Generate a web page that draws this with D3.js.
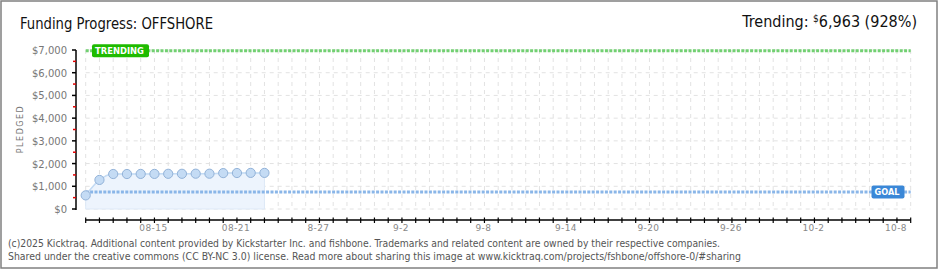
<!DOCTYPE html>
<html>
<head>
<meta charset="utf-8">
<script src="https://cdn.jsdelivr.net/npm/d3@7"></script>
<style>
  body { margin: 0; background: #fff; }
  svg { display: block; }
</style>
</head>
<body>
<div id="chart"></div>
<script>
const projectName = "OFFSHORE";
const dates = ["2025-08-10", "2025-08-11", "2025-08-12", "2025-08-13", "2025-08-14", "2025-08-15", "2025-08-16",
    "2025-08-17", "2025-08-18", "2025-08-19", "2025-08-20", "2025-08-21", "2025-08-22", "2025-08-23"];
const pledged = [600, 1280, 1540, 1540, 1545, 1545, 1550, 1550, 1555, 1555, 1580, 1585, 1590, 1590];
const goal = 750;
const trending = 6963;
const trendingPct = 928;
const yTicks = [0, 1000, 2000, 3000, 4000, 5000, 6000, 7000];
const yMinorTicks = [500, 1500, 2500, 3500, 4500, 5500, 6500];
const xLabels = [
    ["2025-08-15", "08-15"], ["2025-08-21", "08-21"], ["2025-08-27", "8-27"], ["2025-09-02", "9-2"],
    ["2025-09-08", "9-8"], ["2025-09-14", "9-14"], ["2025-09-20", "9-20"], ["2025-09-26", "9-26"],
    ["2025-10-02", "10-2"], ["2025-10-08", "10-8"]
];
const startDate = "2025-08-10";
const endDate = "2025-10-09";
const footer = [
    "(c)2025 Kicktraq. Additional content provided by Kickstarter Inc. and fishbone. Trademarks and related content are owned by their respective companies.",
    "Shared under the creative commons (CC BY-NC 3.0) license. Read more about sharing this image at www.kicktraq.com/projects/fshbone/offshore-0/#sharing"
];

const W = 940, H = 270;
const parse = d3.utcParse("%Y-%m-%d");
const data = dates.map((d, i) => ({ date: parse(d), value: pledged[i] }));

const x = d3.scaleUtc().domain([parse(startDate), parse(endDate)]).range([85.7, 910.7]);
const y = d3.scaleLinear().domain([0, 7000]).range([209, 50]);
const days = d3.utcDay.range(parse(startDate), d3.utcDay.offset(parse(endDate), 1));

const svg = d3.select("#chart").append("svg")
    .attr("width", W)
    .attr("height", H);

svg.append("rect")
    .attr("x", 1).attr("y", 1)
    .attr("width", W - 4).attr("height", H - 3)
    .attr("fill", "#fff")
    .attr("stroke", "#808080")
    .attr("stroke-width", 1.5);

// title
svg.append("text")
    .attr("x", 20).attr("y", 29)
    .style("font-family", "'DejaVu Sans Condensed', 'Liberation Sans Narrow', sans-serif")
    .style("font-size", "16px")
    .attr("fill", "#111")
    .attr("textLength", 193)
    .attr("lengthAdjust", "spacingAndGlyphs")
    .text("Funding Progress: " + projectName);

const trendText = svg.append("text")
    .attr("x", 917).attr("y", 27)
    .attr("text-anchor", "end")
    .style("font-family", "'DejaVu Sans Condensed', 'Liberation Sans Narrow', sans-serif")
    .style("font-size", "16px")
    .attr("fill", "#111");
trendText.append("tspan").text("Trending:  ");
trendText.append("tspan").style("font-size", "10px").attr("dy", -5).text("$");
trendText.append("tspan").attr("dy", 5).text(d3.format(",")(trending) + " (" + trendingPct + "%)");

// grid
const grid = svg.append("g").attr("stroke", "#e2e2e2").attr("stroke-dasharray", "4,4");
grid.selectAll("line.h")
    .data(yTicks)
    .enter()
    .append("line")
    .attr("x1", x(parse(startDate))).attr("x2", x(parse(endDate)))
    .attr("y1", d => y(d)).attr("y2", d => y(d));
grid.selectAll("line.v")
    .data(days)
    .enter()
    .append("line")
    .attr("x1", d => x(d)).attr("x2", d => x(d))
    .attr("y1", y(7000)).attr("y2", y(0));

// area + line + points
const area = d3.area()
    .x(d => x(d.date))
    .y0(y(0))
    .y1(d => y(d.value))
    .curve(d3.curveMonotoneX);
svg.append("path")
    .datum(data)
    .attr("fill", "#edf4fd")
    .attr("stroke", "#dde9f7")
    .attr("d", area);

svg.append("path")
    .datum(data)
    .attr("fill", "none")
    .attr("stroke", "#c4dbf4")
    .attr("stroke-width", 1.5)
    .attr("d", d3.line().x(d => x(d.date)).y(d => y(d.value)).curve(d3.curveMonotoneX));

// goal + trending lines
const lineX1 = x(parse(startDate)), lineX2 = x(parse(endDate));
svg.append("line")
    .attr("x1", lineX1).attr("x2", lineX2)
    .attr("y1", y(goal)).attr("y2", y(goal))
    .attr("stroke", "#8ab6e8")
    .attr("stroke-width", 3)
    .attr("stroke-dasharray", "3,1.4");
svg.append("line")
    .attr("x1", lineX1).attr("x2", lineX2)
    .attr("y1", y(trending)).attr("y2", y(trending))
    .attr("stroke", "#72d072")
    .attr("stroke-width", 3)
    .attr("stroke-dasharray", "3,1.4");

svg.selectAll("circle.pt")
    .data(data)
    .enter()
    .append("circle")
    .attr("cx", d => x(d.date))
    .attr("cy", d => y(d.value))
    .attr("r", 4.6)
    .attr("fill", "#c4dbf4")
    .attr("stroke", "#92b2d8")
    .attr("stroke-width", 1);

// labels on lines
function tag(xPos, yPos, w, color, label) {
    svg.append("rect")
        .attr("x", xPos).attr("y", yPos - 6.5)
        .attr("width", w).attr("height", 13)
        .attr("rx", 2)
        .attr("fill", color);
    svg.append("text")
        .attr("x", xPos + 3).attr("y", yPos + 3.5)
        .style("font-family", "'DejaVu Sans', sans-serif")
        .style("font-size", "9px")
        .style("font-weight", "bold")
        .attr("fill", "#fff")
        .attr("textLength", w - 8)
        .attr("lengthAdjust", "spacingAndGlyphs")
        .text(label);
}
tag(92, y(trending), 57, "#1fbb00", "TRENDING");
tag(871.5, y(goal), 33, "#3a87d7", "GOAL");

// y axis
svg.append("line")
    .attr("x1", 76).attr("x2", 76)
    .attr("y1", y(7000)).attr("y2", y(0) + 1)
    .attr("stroke", "#000").attr("stroke-width", 1.5);
svg.selectAll("line.ytick")
    .data(yTicks)
    .enter()
    .append("line")
    .attr("x1", 72).attr("x2", 76)
    .attr("y1", d => y(d)).attr("y2", d => y(d))
    .attr("stroke", "#000").attr("stroke-width", 1.5);
svg.selectAll("line.yminor")
    .data(yMinorTicks)
    .enter()
    .append("line")
    .attr("x1", 73).attr("x2", 76)
    .attr("y1", d => y(d)).attr("y2", d => y(d))
    .attr("stroke", "#e00000").attr("stroke-width", 1.5);
svg.selectAll("text.ylab")
    .data(yTicks)
    .enter()
    .append("text")
    .attr("x", 67)
    .attr("y", d => y(d) + 4)
    .attr("text-anchor", "end")
    .style("font-family", "'DejaVu Sans', sans-serif")
    .style("font-size", "10px")
    .attr("fill", "#777")
    .text(d => "$" + d3.format(",")(d));

svg.append("text")
    .attr("transform", "translate(23,129) rotate(-90)")
    .attr("text-anchor", "middle")
    .style("font-family", "'DejaVu Sans', sans-serif")
    .style("font-size", "8px")
    .style("letter-spacing", "1.5px")
    .attr("fill", "#777")
    .text("PLEDGED");

// x axis
svg.append("line")
    .attr("x1", x(parse(startDate))).attr("x2", x(parse(endDate)))
    .attr("y1", 220).attr("y2", 220)
    .attr("stroke", "#000").attr("stroke-width", 1.5);
svg.selectAll("line.xtick")
    .data(days)
    .enter()
    .append("line")
    .attr("x1", d => x(d)).attr("x2", d => x(d))
    .attr("y1", 217.5).attr("y2", 223)
    .attr("stroke", "#000").attr("stroke-width", 1.2);
svg.selectAll("text.xlab")
    .data(xLabels)
    .enter()
    .append("text")
    .attr("x", d => x(parse(d[0])) - 1)
    .attr("y", 231)
    .attr("text-anchor", "middle")
    .style("font-family", "'DejaVu Sans', sans-serif")
    .style("font-size", "9px")
    .style("letter-spacing", "0.4px")
    .attr("fill", "#888")
    .text(d => d[1]);

// footer
svg.selectAll("text.foot")
    .data(footer)
    .enter()
    .append("text")
    .attr("x", 8)
    .attr("y", (d, i) => 247 + i * 13)
    .style("font-family", "'DejaVu Sans Condensed', sans-serif")
    .style("font-size", "10px")
    .attr("fill", "#555")
    .attr("textLength", (d, i) => i === 0 ? 712 : 733)
    .attr("lengthAdjust", "spacingAndGlyphs")
    .text(d => d);
</script>
</body>
</html>
